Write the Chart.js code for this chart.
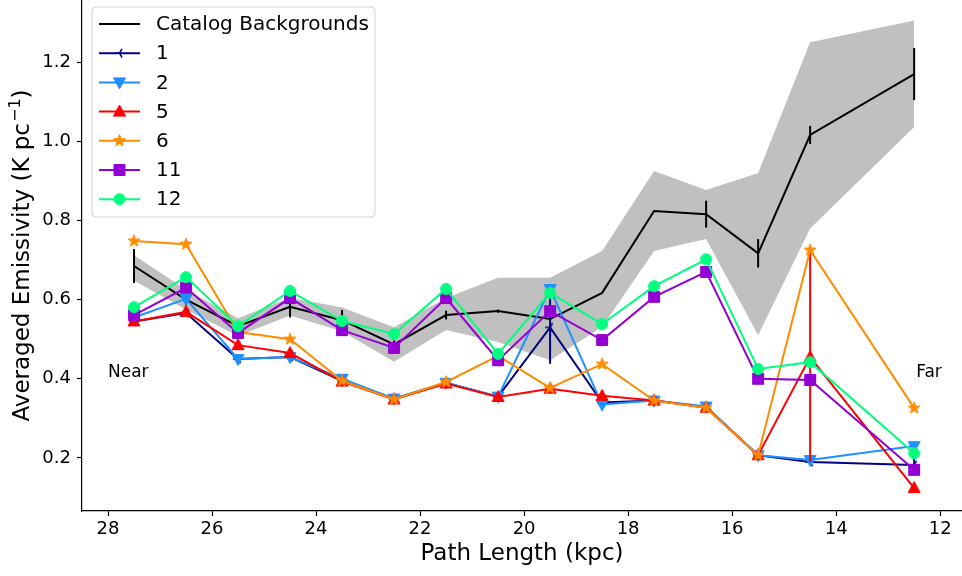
<!DOCTYPE html>
<html>
<head>
<meta charset="utf-8">
<script src="https://cdn.jsdelivr.net/npm/chart.js@4.4.1/dist/chart.umd.min.js"></script>
<style>
  body { margin: 0; background: #fff; }
</style>
</head>
<body>
<canvas id="chart" width="962" height="576"></canvas>
<script>
// path length bins (kpc), x axis is reversed
const pathLength = [27.5, 26.5, 25.5, 24.5, 23.5, 22.5, 21.5, 20.5, 19.5, 18.5, 17.5, 16.5, 15.5, 14.5, 12.5];

// catalog backgrounds + grey range
const catalogBg  = [0.685, 0.600, 0.533, 0.582, 0.548, 0.487, 0.561, 0.571, 0.551, 0.617, 0.824, 0.816, 0.717, 1.016, 1.170];
const catalogErr = [0.043, 0.015, 0.010, 0.027, 0.026, 0.010, 0.011, 0.004, 0.003, 0, 0, 0.034, 0.036, 0.023, 0.066];
const bandUpper  = [0.712, 0.625, 0.553, 0.605, 0.580, 0.530, 0.604, 0.655, 0.655, 0.723, 0.925, 0.877, 0.920, 1.250, 1.305];
const bandLower  = [0.648, 0.575, 0.508, 0.560, 0.520, 0.443, 0.523, 0.493, 0.447, 0.531, 0.723, 0.753, 0.510, 0.780, 1.036];

// regions
const region1    = [0.545, 0.566, 0.450, 0.455, 0.395, 0.350, 0.390, 0.355, 0.530, 0.340, 0.345, 0.328, 0.207, 0.190, 0.182];
const region1Err = [0, 0, 0, 0, 0, 0, 0, 0, 0.092, 0, 0, 0, 0, 0, 0.020];
const region2    = [0.555, 0.602, 0.450, 0.455, 0.400, 0.350, 0.390, 0.355, 0.627, 0.335, 0.345, 0.330, 0.207, 0.195, 0.230];
const region5    = [0.545, 0.569, 0.485, 0.465, 0.393, 0.348, 0.388, 0.354, 0.375, 0.357, 0.345, 0.327, 0.207, 0.455, 0.124];
const region5Err = [0, 0, 0, 0, 0, 0, 0, 0, 0, 0, 0, 0, 0, 0.265, 0];
const region6    = [0.748, 0.740, 0.518, 0.500, 0.395, 0.348, 0.392, 0.458, 0.377, 0.437, 0.345, 0.327, 0.207, 0.725, 0.326];
const region11   = [0.561, 0.630, 0.516, 0.604, 0.523, 0.478, 0.604, 0.447, 0.571, 0.498, 0.607, 0.670, 0.400, 0.397, 0.170];
const region12   = [0.581, 0.657, 0.533, 0.622, 0.546, 0.513, 0.627, 0.463, 0.617, 0.538, 0.634, 0.702, 0.425, 0.442, 0.212];

const xTicks = [28, 26, 24, 22, 20, 18, 16, 14, 12];
const yTicks = [0.2, 0.4, 0.6, 0.8, 1.0, 1.2];

const FONT = 'DejaVu Sans';
Chart.defaults.font.family = FONT;
Chart.defaults.color = '#000';

function drawMarker(ctx, kind, x, y, color) {
  ctx.save();
  ctx.fillStyle = color;
  ctx.strokeStyle = color;
  ctx.lineWidth = 1;
  ctx.beginPath();
  if (kind === 'circle') {
    ctx.arc(x, y, 5.5, 0, Math.PI * 2);
  } else if (kind === 'square') {
    ctx.rect(x - 5.5, y - 5.5, 11, 11);
  } else if (kind === 'up') {
    ctx.moveTo(x, y - 6.5); ctx.lineTo(x + 6, y + 4.5); ctx.lineTo(x - 6, y + 4.5); ctx.closePath();
  } else if (kind === 'down') {
    ctx.moveTo(x, y + 6.5); ctx.lineTo(x + 6, y - 4.5); ctx.lineTo(x - 6, y - 4.5); ctx.closePath();
  } else if (kind === 'star') {
    for (let k = 0; k < 10; k++) {
      const r = k % 2 ? 2.6 : 6.3;
      const a = -Math.PI / 2 + k * Math.PI / 5;
      if (k === 0) ctx.moveTo(x + r * Math.cos(a), y + r * Math.sin(a));
      else ctx.lineTo(x + r * Math.cos(a), y + r * Math.sin(a));
    }
    ctx.closePath();
  } else if (kind === 'triLeft') {
    ctx.lineWidth = 1.5;
    ctx.moveTo(x, y); ctx.lineTo(x - 5, y);
    ctx.moveTo(x, y); ctx.lineTo(x + 2.5, y - 4.3);
    ctx.moveTo(x, y); ctx.lineTo(x + 2.5, y + 4.3);
    ctx.stroke();
    ctx.restore();
    return;
  }
  ctx.fill();
  ctx.stroke();
  ctx.restore();
}

function markerCanvas(kind, color) {
  const c = document.createElement('canvas');
  c.width = 16; c.height = 16;
  drawMarker(c.getContext('2d'), kind, 8, 8, color);
  return c;
}

const toPoints = vals => pathLength.map((x, i) => ({x: x, y: vals[i]}));

const series = [
  {label: '1',  data: region1,  color: '#000080', marker: 'triLeft', errors: region1Err},
  {label: '2',  data: region2,  color: '#1E90FF', marker: 'down'},
  {label: '5',  data: region5,  color: '#FF0000', marker: 'up', errors: region5Err},
  {label: '6',  data: region6,  color: '#FF8C00', marker: 'star'},
  {label: '11', data: region11, color: '#9400D3', marker: 'square'},
  {label: '12', data: region12, color: '#00FF7F', marker: 'circle'}
];

const datasets = [
  {
    label: 'bandUpper', data: toPoints(bandUpper), fill: '+1',
    backgroundColor: '#C0C0C0', borderWidth: 0, pointRadius: 0, order: 100
  },
  {
    label: 'bandLower', data: toPoints(bandLower), fill: false,
    borderWidth: 0, pointRadius: 0, order: 99
  },
  {
    label: 'Catalog Backgrounds', data: toPoints(catalogBg), errors: catalogErr,
    borderColor: '#000', borderWidth: 2, pointRadius: 0, fill: false, order: 50
  }
];

series.forEach((s, i) => {
  const img = markerCanvas(s.marker, s.color);
  datasets.push({
    label: s.label,
    data: toPoints(s.data),
    errors: s.errors,
    borderColor: s.color,
    backgroundColor: s.color,
    borderWidth: 2,
    pointStyle: img,
    pointRadius: 6,
    fill: false,
    order: 40 - i
  });
});

// vertical error bars, no caps
const errorBars = {
  id: 'errorBars',
  afterDatasetDraw(chart, args) {
    const ds = chart.data.datasets[args.index];
    if (!ds.errors) return;
    const ctx = chart.ctx;
    const xs = chart.scales.x, ys = chart.scales.y;
    ctx.save();
    ctx.strokeStyle = ds.borderColor;
    ctx.lineWidth = 2;
    ds.data.forEach((p, i) => {
      const e = ds.errors[i];
      if (!e) return;
      const px = xs.getPixelForValue(p.x);
      ctx.beginPath();
      ctx.moveTo(px, ys.getPixelForValue(p.y - e));
      ctx.lineTo(px, ys.getPixelForValue(p.y + e));
      ctx.stroke();
    });
    ctx.restore();
  }
};

// legend box inside the plot, Near / Far notes, y title with superscript
const overlay = {
  id: 'overlay',
  afterDraw(chart) {
    const ctx = chart.ctx;
    const xs = chart.scales.x, ys = chart.scales.y;

    ctx.save();
    ctx.font = '17px ' + FONT;
    ctx.fillStyle = '#000';
    ctx.textBaseline = 'middle';
    ctx.textAlign = 'left';
    ctx.fillText('Near', xs.getPixelForValue(28.0), ys.getPixelForValue(0.415));
    ctx.fillText('Far', xs.getPixelForValue(12.46), ys.getPixelForValue(0.415));

    // y axis title
    const main = '23px ' + FONT, sup = '16px ' + FONT;
    const t1 = 'Averaged Emissivity (K pc', t2 = '\u22121', t3 = ')';
    ctx.font = main; const w1 = ctx.measureText(t1).width, w3 = ctx.measureText(t3).width;
    ctx.font = sup; const w2 = ctx.measureText(t2).width;
    const total = w1 + w2 + w3 + 1;
    const cy = (chart.chartArea.top + chart.chartArea.bottom) / 2;
    ctx.save();
    ctx.translate(21, cy);
    ctx.rotate(-Math.PI / 2);
    ctx.textBaseline = 'alphabetic';
    ctx.font = main;
    ctx.fillText(t1, -total / 2, 8);
    ctx.font = sup;
    ctx.fillText(t2, -total / 2 + w1 + 1, -1);
    ctx.font = main;
    ctx.fillText(t3, -total / 2 + w1 + w2 + 1, 8);
    ctx.restore();

    // legend
    const bx = 92, by = 7, bw = 283, bh = 210;
    ctx.beginPath();
    ctx.roundRect(bx, by, bw, bh, 4);
    ctx.fillStyle = 'rgba(255,255,255,0.8)';
    ctx.fill();
    ctx.strokeStyle = '#d4d4d4';
    ctx.lineWidth = 1;
    ctx.stroke();

    const entries = [{label: 'Catalog Backgrounds', color: '#000', marker: null}].concat(series);
    entries.forEach((s, i) => {
      const y = 24 + i * 29.2;
      ctx.strokeStyle = s.color;
      ctx.lineWidth = 2;
      ctx.beginPath();
      ctx.moveTo(99, y);
      ctx.lineTo(140, y);
      ctx.stroke();
      if (s.marker) drawMarker(ctx, s.marker, 119.5, y, s.color);
      ctx.fillStyle = '#000';
      ctx.font = '20px ' + FONT;
      ctx.fillText(s.label, 156, y + 1);
    });
    ctx.restore();
  }
};

const ctx = document.getElementById('chart').getContext('2d');
new Chart(ctx, {
  type: 'line',
  data: {datasets: datasets},
  plugins: [errorBars, overlay],
  options: {
    responsive: false,
    animation: false,
    layout: {padding: 0, autoPadding: false},
    plugins: {
      legend: {display: false},
      tooltip: {enabled: false}
    },
    scales: {
      x: {
        type: 'linear',
        reverse: true,
        min: 11.58,
        max: 28.5,
        afterBuildTicks: scale => { scale.ticks = xTicks.map(v => ({value: v})); },
        afterFit: scale => { scale.height = 65; scale.paddingLeft = 0; scale.paddingRight = 0; },
        ticks: {font: {size: 18}, padding: 3, maxRotation: 0, callback: v => String(v)},
        grid: {drawOnChartArea: false, drawTicks: true, tickLength: 5, color: '#000', tickWidth: 1.2},
        border: {display: true, color: '#000', width: 1.2},
        title: {display: true, text: 'Path Length (kpc)', font: {size: 23}, padding: {top: 0, bottom: 8}}
      },
      y: {
        type: 'linear',
        min: 0.066,
        max: 1.357,
        afterBuildTicks: scale => { scale.ticks = yTicks.map(v => ({value: v})); },
        afterFit: scale => { scale.width = 82; scale.paddingTop = 0; scale.paddingBottom = 0; },
        ticks: {font: {size: 18}, padding: 6, callback: v => v.toFixed(1)},
        grid: {drawOnChartArea: false, drawTicks: true, tickLength: 5, color: '#000', tickWidth: 1.2},
        border: {display: true, color: '#000', width: 1.2},
        title: {display: false}
      }
    }
  }
});
</script>
</body>
</html>
